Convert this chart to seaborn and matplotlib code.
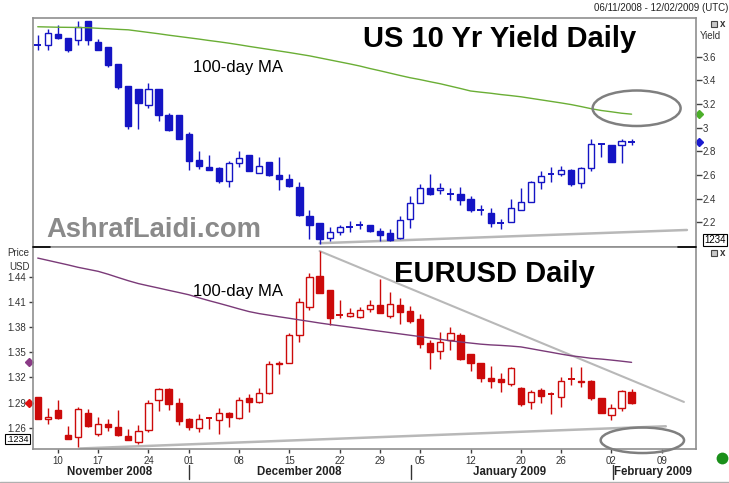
import numpy as np
import matplotlib
matplotlib.use("Agg")
import matplotlib.pyplot as plt
import seaborn as sns
from matplotlib.patches import Ellipse, Rectangle
from matplotlib.lines import Line2D

W, H = 729, 483
sns.set_theme(style="white")
plt.rcParams['font.family'] = ['Liberation Sans', 'DejaVu Sans']

# ---------------- data ----------------
# US 10 Yr yield daily candles
y_open  = [3.70, 3.70, 3.79, 3.76, 3.74, 3.90, 3.72, 3.68, 3.54, 3.35,
           3.33, 3.19, 3.33, 3.11, 3.11, 2.95, 2.73, 2.67, 2.66, 2.55,
           2.70, 2.77, 2.62, 2.71, 2.60, 2.57, 2.50, 2.25, 2.19, 2.07,
           2.12, 2.16, 2.18, 2.18, 2.13, 2.11, 2.07, 2.23, 2.36, 2.49,
           2.47, 2.44, 2.44, 2.40, 2.30, 2.28, 2.19, 2.20, 2.30, 2.37,
           2.54, 2.61, 2.61, 2.64, 2.53, 2.66, 2.86, 2.85, 2.85, 2.88]
y_high  = [3.78, 3.83, 3.87, 3.76, 3.90, 3.90, 3.75, 3.68, 3.54, 3.35,
           3.33, 3.38, 3.33, 3.12, 3.11, 2.96, 2.80, 2.77, 2.67, 2.72,
           2.80, 2.77, 2.75, 2.71, 2.75, 2.61, 2.54, 2.30, 2.19, 2.16,
           2.18, 2.21, 2.21, 2.18, 2.15, 2.14, 2.25, 2.42, 2.52, 2.61,
           2.53, 2.49, 2.50, 2.42, 2.35, 2.32, 2.23, 2.40, 2.49, 2.55,
           2.63, 2.67, 2.68, 2.65, 2.67, 2.90, 2.87, 2.85, 2.90, 2.90]
y_low   = [3.66, 3.66, 3.75, 3.64, 3.70, 3.70, 3.66, 3.51, 3.33, 2.99,
           2.99, 3.17, 3.06, 2.97, 2.90, 2.64, 2.65, 2.64, 2.53, 2.50,
           2.67, 2.63, 2.62, 2.59, 2.47, 2.50, 2.25, 2.06, 2.02, 2.04,
           2.09, 2.12, 2.14, 2.12, 2.04, 2.04, 2.06, 2.15, 2.36, 2.43,
           2.44, 2.39, 2.35, 2.29, 2.26, 2.16, 2.14, 2.20, 2.30, 2.37,
           2.48, 2.54, 2.59, 2.51, 2.49, 2.63, 2.75, 2.71, 2.70, 2.85]
y_close = [3.70, 3.80, 3.76, 3.66, 3.85, 3.74, 3.66, 3.53, 3.34, 3.01,
           3.21, 3.33, 3.11, 2.98, 2.90, 2.72, 2.68, 2.64, 2.55, 2.70,
           2.74, 2.63, 2.68, 2.60, 2.57, 2.51, 2.26, 2.18, 2.06, 2.12,
           2.16, 2.16, 2.18, 2.13, 2.09, 2.05, 2.22, 2.36, 2.49, 2.44,
           2.49, 2.44, 2.39, 2.30, 2.30, 2.19, 2.19, 2.32, 2.37, 2.54,
           2.59, 2.61, 2.64, 2.52, 2.66, 2.86, 2.86, 2.71, 2.89, 2.88]
y_ma100 = [3.853, 3.851, 3.849, 3.848, 3.847, 3.845, 3.840, 3.836, 3.831, 3.827,
           3.816, 3.805, 3.794, 3.782, 3.771, 3.760, 3.749, 3.737, 3.726, 3.714,
           3.701, 3.687, 3.674, 3.661, 3.648, 3.635, 3.621, 3.607, 3.590, 3.573,
           3.556, 3.539, 3.521, 3.500, 3.481, 3.461, 3.441, 3.422, 3.406, 3.388,
           3.371, 3.351, 3.331, 3.310, 3.300, 3.291, 3.280, 3.271, 3.261, 3.248,
           3.235, 3.222, 3.209, 3.195, 3.178, 3.160, 3.145, 3.134, 3.122, 3.114]
y_support_x = [28.0, 64.5]
y_support_y = [2.023, 2.135]

# EURUSD daily candles
e_open  = [1.2960, 1.2700, 1.2810, 1.2510, 1.2490, 1.2780, 1.2520, 1.2640, 1.2610, 1.2500,
           1.2430, 1.2570, 1.2930, 1.3060, 1.2890, 1.2700, 1.2600, 1.2720, 1.2690, 1.2780,
           1.2710, 1.2950, 1.2910, 1.3010, 1.3370, 1.3370, 1.3705, 1.4040, 1.4410, 1.4240,
           1.3940, 1.3935, 1.3920, 1.4010, 1.4060, 1.3936, 1.4060, 1.3990, 1.3900, 1.3606,
           1.3514, 1.3646, 1.3705, 1.3475, 1.3367, 1.3190, 1.3180, 1.3117, 1.3077, 1.2903,
           1.3050, 1.2998, 1.2970, 1.3177, 1.3161, 1.3157, 1.2950, 1.2752, 1.2839, 1.3022]
e_high  = [1.2960, 1.2840, 1.2930, 1.2620, 1.2850, 1.2820, 1.2730, 1.2700, 1.2810, 1.2590,
           1.2630, 1.2930, 1.3070, 1.3070, 1.2950, 1.2710, 1.2760, 1.2730, 1.2840, 1.2790,
           1.2960, 1.3000, 1.3070, 1.3390, 1.3395, 1.3725, 1.4150, 1.4440, 1.4706, 1.4240,
           1.4120, 1.4030, 1.4040, 1.4120, 1.4370, 1.4220, 1.4150, 1.4055, 1.3960, 1.3646,
           1.3745, 1.3804, 1.3725, 1.3475, 1.3367, 1.3340, 1.3250, 1.3327, 1.3090, 1.3050,
           1.3070, 1.3030, 1.3210, 1.3327, 1.3327, 1.3170, 1.2950, 1.2880, 1.3050, 1.3062]
e_low   = [1.2700, 1.2640, 1.2700, 1.2465, 1.2370, 1.2610, 1.2500, 1.2560, 1.2500, 1.2450,
           1.2410, 1.2550, 1.2800, 1.2810, 1.2630, 1.2570, 1.2550, 1.2585, 1.2530, 1.2610,
           1.2700, 1.2790, 1.2900, 1.3000, 1.3236, 1.3370, 1.3626, 1.4000, 1.4200, 1.3830,
           1.3910, 1.3920, 1.3910, 1.3980, 1.3970, 1.3910, 1.3840, 1.3844, 1.3546, 1.3300,
           1.3420, 1.3526, 1.3407, 1.3276, 1.3141, 1.3077, 1.3020, 1.3100, 1.2863, 1.2823,
           1.2900, 1.2760, 1.2850, 1.3110, 1.3090, 1.2930, 1.2770, 1.2692, 1.2800, 1.2879]
e_close = [1.2700, 1.2727, 1.2720, 1.2465, 1.2820, 1.2620, 1.2640, 1.2610, 1.2510, 1.2455,
           1.2565, 1.2900, 1.3060, 1.2880, 1.2680, 1.2610, 1.2700, 1.2720, 1.2770, 1.2725,
           1.2930, 1.2905, 1.3010, 1.3355, 1.3360, 1.3710, 1.4100, 1.4400, 1.4200, 1.3910,
           1.3940, 1.3970, 1.4000, 1.4060, 1.3970, 1.4070, 1.3975, 1.3870, 1.3594, 1.3498,
           1.3626, 1.3725, 1.3420, 1.3367, 1.3190, 1.3157, 1.3150, 1.3308, 1.2880, 1.3030,
           1.2980, 1.2998, 1.3157, 1.3177, 1.3141, 1.2958, 1.2770, 1.2839, 1.3038, 1.2891]
e_ma100 = [1.4622, 1.4595, 1.4568, 1.4541, 1.4512, 1.4488, 1.4464, 1.4429, 1.4390, 1.4352,
           1.4318, 1.4291, 1.4265, 1.4238, 1.4212, 1.4185, 1.4149, 1.4115, 1.4083, 1.4050,
           1.4016, 1.3984, 1.3960, 1.3941, 1.3922, 1.3904, 1.3885, 1.3867, 1.3848, 1.3831,
           1.3815, 1.3799, 1.3783, 1.3766, 1.3750, 1.3734, 1.3718, 1.3702, 1.3686, 1.3669,
           1.3654, 1.3635, 1.3622, 1.3609, 1.3596, 1.3587, 1.3581, 1.3573, 1.3563, 1.3542,
           1.3520, 1.3499, 1.3477, 1.3457, 1.3443, 1.3427, 1.3418, 1.3406, 1.3393, 1.3379]
e_resist_x = [28.0, 64.2]
e_resist_y = [1.4706, 1.2907]
e_support_x = [4.2, 62.4]
e_support_y = [1.2352, 1.2617]

tick_pos = [2, 6, 11, 15, 20, 25, 30, 34, 38, 43, 48, 52, 57, 62]
tick_lab = ["10", "17", "24", "01", "08", "15", "22", "29", "05", "12", "20", "26", "02", "09"]
months = ["November 2008", "December 2008", "January 2009", "February 2009"]
y_ticks = [2.2, 2.4, 2.6, 2.8, 3.0, 3.2, 3.4, 3.6]
y_tick_lab = ["2.2", "2.4", "2.6", "2.8", "3", "3.2", "3.4", "3.6"]
e_ticks = [1.26, 1.29, 1.32, 1.35, 1.38, 1.41, 1.44]

# ---------------- figure ----------------
fig = plt.figure(figsize=(W / 100, H / 100), dpi=100)
fig.patch.set_facecolor("white")

def fx(px):
    return px / W

def fy(py):
    return 1 - py / H

ax1 = fig.add_axes([fx(33), fy(247), 663 / W, 229 / H])
ax2 = fig.add_axes([fx(33), fy(449), 663 / W, 202 / H])

XLIM = (-0.47, 65.4)
SPINE = "#8f8f8f"


def candles(ax, o, h, l, c, color, doji_tol):
    o, h, l, c = map(np.asarray, (o, h, l, c))
    x = np.arange(len(o))
    ax.vlines(x, l, h, color=color, lw=1.0, zorder=2)
    body = np.abs(c - o)
    lo = np.minimum(o, c)
    doji = body < doji_tol
    up = (c >= o) & ~doji
    dn = (c < o) & ~doji
    ax.bar(x[up], body[up], bottom=lo[up], width=0.62, facecolor="white",
           edgecolor=color, linewidth=1.0, zorder=3)
    ax.bar(x[dn], body[dn], bottom=lo[dn], width=0.62, facecolor=color,
           edgecolor=color, linewidth=1.0, zorder=3)
    ax.hlines(c[doji], x[doji] - 0.33, x[doji] + 0.33, color=color, lw=1.4, zorder=3)


BLUE = "#1414c4"
RED = "#cc0a0a"

# top panel
candles(ax1, y_open, y_high, y_low, y_close, BLUE, 0.012)
idx = np.arange(len(y_ma100))
sns.lineplot(x=idx, y=y_ma100, ax=ax1, color="#6aae35", lw=1.0, legend=False, zorder=4)
sns.lineplot(x=y_support_x, y=y_support_y, ax=ax1, color="#b8b8b8", lw=1.8, legend=False, zorder=1)
ax1.add_patch(Ellipse((59.5, 3.164), 8.74, 0.300, fill=False, edgecolor="#7f7f7f",
                      lw=1.8, zorder=5))
ax1.set_xlim(*XLIM)
ax1.set_ylim(1.991, 3.927)
ax1.set_xticks([])
ax1.yaxis.tick_right()
ax1.set_yticks(y_ticks)
ax1.set_yticklabels(y_tick_lab)
ax1.tick_params(axis="y", which="both", direction="out", length=4, width=1,
                color="#404040", labelsize=7, labelcolor="#333333", pad=1, right=True, left=False)
ax1.set_ylabel("")
ax1.set_xlabel("")
for s in ax1.spines.values():
    s.set_color(SPINE)
    s.set_linewidth(1.2)

# markers on the right of the top panel
ax1.plot([1.005], [y_ma100[-1]], marker="D", ms=4.5, color="#4caf2a",
         transform=ax1.get_yaxis_transform(), clip_on=False)
ax1.plot([1.005], [y_close[-1]], marker="D", ms=4.5, color="#1a1ad0",
         transform=ax1.get_yaxis_transform(), clip_on=False)

# bottom panel
candles(ax2, e_open, e_high, e_low, e_close, RED, 0.0006)
sns.lineplot(x=idx, y=e_ma100, ax=ax2, color="#7a3a78", lw=1.0, legend=False, zorder=4)
sns.lineplot(x=e_resist_x, y=e_resist_y, ax=ax2, color="#b8b8b8", lw=1.5, legend=False, zorder=1)
sns.lineplot(x=e_support_x, y=e_support_y, ax=ax2, color="#b8b8b8", lw=1.8, legend=False, zorder=1)
ax2.add_patch(Ellipse((60.07, 1.245), 8.28, 0.0304, fill=False, edgecolor="#7f7f7f",
                      lw=1.8, zorder=5, clip_on=False))
ax2.set_xlim(*XLIM)
ax2.set_ylim(1.2346, 1.4754)
ax2.set_yticks(e_ticks)
ax2.set_yticklabels([f"{v:.2f}" for v in e_ticks])
ax2.set_xticks(tick_pos)
ax2.set_xticklabels(tick_lab)
ax2.tick_params(axis="y", direction="out", length=3, width=1, color="#404040",
                labelsize=7, labelcolor="#333333", pad=2, left=True)
ax2.tick_params(axis="x", direction="out", length=3, width=1, color="#404040",
                labelsize=7, labelcolor="#333333", pad=2, bottom=True)
ax2.set_ylabel("")
ax2.set_xlabel("")
for s in ax2.spines.values():
    s.set_color(SPINE)
    s.set_linewidth(1.2)

ax2.plot([-0.0056], [e_ma100[-1]], marker="D", ms=4.5, color="#8a3a86",
         transform=ax2.get_yaxis_transform(), clip_on=False)
ax2.plot([-0.0056], [e_close[-1]], marker="D", ms=4.5, color="#e01010",
         transform=ax2.get_yaxis_transform(), clip_on=False)

# ---------------- texts ----------------
fig.text(fx(363), fy(47.3), "US 10 Yr Yield Daily", fontsize=21, fontweight="bold",
         color="black", ha="left", va="baseline")
fig.text(fx(394), fy(281.7), "EURUSD Daily", fontsize=21, fontweight="bold",
         color="black", ha="left", va="baseline")
fig.text(fx(193), fy(71.7), "100-day MA", fontsize=12, color="black", ha="left", va="baseline")
fig.text(fx(193), fy(295.7), "100-day MA", fontsize=12, color="black", ha="left", va="baseline")
fig.text(fx(46), fy(236.7), "AshrafLaidi.com", fontsize=19.7, fontweight="bold",
         color="#8a8a8a", ha="left", va="baseline")
fig.text(fx(728), fy(8.3), "06/11/2008 - 12/02/2009 (UTC)", fontsize=7, color="#222222",
         ha="right", va="center")
fig.text(fx(700), fy(36), "Yield", fontsize=7, color="#333333", ha="left", va="center")
fig.text(fx(29.5), fy(253.3), "Price", fontsize=7, color="#333333", ha="right", va="center")
fig.text(fx(29.5), fy(266.7), "USD", fontsize=7, color="#333333", ha="right", va="center")

month_x = [110, 299, 510, 653]
for mx, m in zip(month_x, months):
    fig.text(fx(mx), fy(472), m, fontsize=8.3, fontweight="bold", color="#222222",
             ha="center", va="center")
for sx in [189, 410.7, 612.7]:
    fig.add_artist(Line2D([fx(sx), fx(sx)], [fy(465), fy(479)], color="#333333", lw=1))

# boxes "1234"
fig.text(fx(714.7), fy(240), "1234", fontsize=7, color="black", ha="center", va="center",
         bbox=dict(boxstyle="square,pad=0.12", facecolor="white", edgecolor="black", lw=0.8))
fig.text(fx(17.5), fy(439), ".1234", fontsize=6.5, color="black", ha="center", va="center",
         bbox=dict(boxstyle="square,pad=0.1", facecolor="white", edgecolor="black", lw=0.8))

# window icons
for yy in [23.7, 252.5]:
    fig.add_artist(Rectangle((fx(710.5), fy(yy + 3)), 6 / W, 6 / H, facecolor="#c8c8c8",
                             edgecolor="#444444", lw=0.8))
    fig.text(fx(723), fy(yy), "x", fontsize=7, fontweight="bold", color="#333333",
             ha="center", va="center")

# splitter segments and bottom frame line
fig.add_artist(Line2D([fx(33), fx(50)], [fy(246.5), fy(246.5)], color="black", lw=1.2))
fig.add_artist(Line2D([fx(678), fx(696)], [fy(246.5), fy(246.5)], color="black", lw=1.2))
fig.add_artist(Line2D([0, 1], [fy(481.5), fy(481.5)], color="#b0b0b0", lw=1))

# green status dot
fig.add_artist(Line2D([fx(721.7)], [fy(458.3)], marker="o", ms=8.5, color="#1a8f1a",
                      markeredgewidth=0, linestyle="none"))

fig.savefig("out.png", dpi=100, facecolor="white")
